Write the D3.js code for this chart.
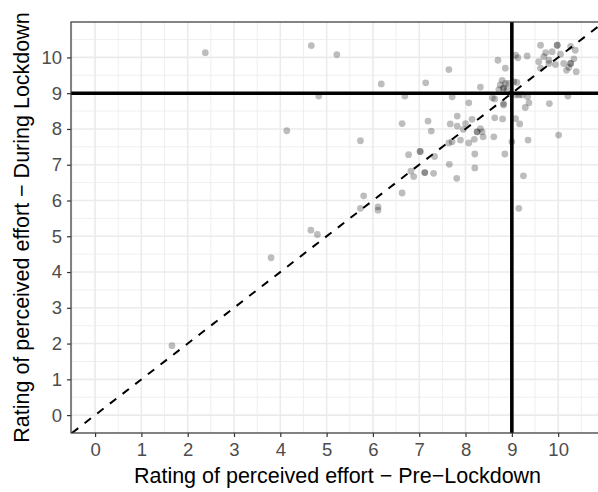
<!DOCTYPE html>
<html><head><meta charset="utf-8">
<script src="https://cdn.jsdelivr.net/npm/d3@7"></script>
<style>body{margin:0;background:#fff}svg{display:block}text{font-family:"Liberation Sans",Arial,sans-serif}</style>
</head><body>
<script>
const preLockdown = [1.66,3.80,2.38,4.14,4.67,5.22,4.66,4.80,4.83,5.73,5.80,5.73,6.11,6.11,6.63,6.18,6.69,6.63,7.14,7.64,7.71,7.19,7.26,6.77,7.02,7.02,7.33,6.82,6.88,7.12,7.12,7.31,7.65,7.81,8.20,8.20,7.82,7.67,7.82,8.00,8.14,7.95,8.25,8.25,8.32,8.19,8.07,7.89,7.71,7.64,8.07,8.32,8.36,8.38,8.61,8.63,8.80,9.08,9.17,9.00,9.35,8.85,9.25,9.15,10.01,9.81,10.21,8.58,8.63,8.82,8.82,9.08,9.15,9.22,9.34,9.37,9.29,8.98,8.70,8.86,9.08,9.13,9.33,8.79,8.86,8.75,8.82,8.82,8.72,8.93,9.04,9.11,8.90,9.62,9.98,9.98,10.27,10.37,9.73,9.87,10.05,9.69,9.58,9.80,9.80,9.94,10.12,10.27,10.27,10.34,10.23,10.18,10.39,9.62];
const duringLockdown = [1.94,4.40,10.13,7.95,10.33,10.08,5.17,5.05,8.92,7.67,6.13,5.78,5.82,5.73,6.21,9.26,8.92,8.15,9.29,9.66,8.90,8.22,7.94,7.28,7.37,7.37,7.23,6.82,6.67,6.78,6.78,6.76,7.01,6.62,6.91,7.30,8.36,8.14,8.08,8.15,8.27,7.99,7.92,7.92,8.01,7.71,7.61,7.69,7.64,7.61,8.73,9.17,7.92,7.78,7.78,8.31,8.28,8.29,8.14,7.64,7.69,7.30,6.69,5.78,7.83,8.71,8.92,8.87,8.84,8.71,8.67,8.95,8.95,8.95,8.90,8.73,8.60,8.98,9.92,9.70,10.06,9.99,10.04,9.36,9.27,9.23,9.15,9.13,9.10,9.27,9.32,9.30,9.09,10.34,10.34,10.34,10.31,10.20,10.13,10.16,10.09,10.02,9.88,9.92,9.83,9.80,9.83,9.83,9.83,9.96,9.72,9.64,9.60,9.70];
const xTicks = [0,1,2,3,4,5,6,7,8,9,10];
const yTicks = [0,1,2,3,4,5,6,7,8,9,10];
const xMinor = [-0.5,0.5,1.5,2.5,3.5,4.5,5.5,6.5,7.5,8.5,9.5,10.5];
const yMinor = [-0.5,0.5,1.5,2.5,3.5,4.5,5.5,6.5,7.5,8.5,9.5,10.5];
const refX = 9, refY = 9;
const xTitle = "Rating of perceived effort \u2212 Pre\u2212Lockdown";
const yTitle = "Rating of perceived effort \u2212 During Lockdown";

const W = 598, H = 492;
const L = 71, T = 22, R = 604, B = 433;
const x = d3.scaleLinear().domain([-0.52, 10.99]).range([L, R]);
const y = d3.scaleLinear().domain([-0.5, 10.99]).range([B, T]);

const svg = d3.select("body").append("svg").attr("width", W).attr("height", H);
const defs = svg.append("defs");
defs.append("clipPath").attr("id","clip").append("rect").attr("x",L).attr("y",T).attr("width",R-L).attr("height",B-T);

const g = svg.append("g").attr("clip-path","url(#clip)");
g.selectAll(".xmin").data(xMinor).join("line").attr("x1",d=>x(d)).attr("x2",d=>x(d)).attr("y1",T).attr("y2",B).attr("stroke","#EBEBEB").attr("stroke-width",0.8);
g.selectAll(".ymin").data(yMinor).join("line").attr("y1",d=>y(d)).attr("y2",d=>y(d)).attr("x1",L).attr("x2",R).attr("stroke","#EBEBEB").attr("stroke-width",0.8);
g.selectAll(".xmaj").data(xTicks).join("line").attr("x1",d=>x(d)).attr("x2",d=>x(d)).attr("y1",T).attr("y2",B).attr("stroke","#EBEBEB").attr("stroke-width",1.6);
g.selectAll(".ymaj").data(yTicks).join("line").attr("y1",d=>y(d)).attr("y2",d=>y(d)).attr("x1",L).attr("x2",R).attr("stroke","#EBEBEB").attr("stroke-width",1.6);

const pts = preLockdown.map((d,i)=>({x:d,y:duringLockdown[i]}));
g.selectAll("circle").data(pts).join("circle").attr("cx",d=>x(d.x)).attr("cy",d=>y(d.y)).attr("r",3.4).attr("fill","#000").attr("fill-opacity",0.26);

g.append("line").attr("x1",x(-0.5)).attr("y1",y(-0.5)).attr("x2",x(11)).attr("y2",y(11)).attr("stroke","#000").attr("stroke-width",2).attr("stroke-dasharray","8,8");
g.append("line").attr("x1",L).attr("x2",R).attr("y1",y(refY)).attr("y2",y(refY)).attr("stroke","#000").attr("stroke-width",3.6);
g.append("line").attr("x1",x(refX)).attr("x2",x(refX)).attr("y1",T).attr("y2",B).attr("stroke","#000").attr("stroke-width",3.6);

svg.append("rect").attr("x",L).attr("y",T).attr("width",R-L).attr("height",B-T).attr("fill","none").attr("stroke","#333").attr("stroke-width",1.2);

const xa = svg.append("g").attr("transform",`translate(0,${B})`).call(d3.axisBottom(x).tickValues(xTicks).tickSize(4).tickPadding(6));
const ya = svg.append("g").attr("transform",`translate(${L},0)`).call(d3.axisLeft(y).tickValues(yTicks).tickSize(4).tickPadding(5));
[xa,ya].forEach(a=>{a.select(".domain").remove();a.selectAll(".tick line").attr("stroke","#333").attr("stroke-width",1.2);a.selectAll("text").attr("fill","#4D4D4D").style("font-size","18.5px").style("font-family","'Liberation Sans',Arial,sans-serif");});

svg.append("text").attr("x",(L+R)/2).attr("y",483).attr("text-anchor","middle").style("font-size","21.5px").attr("fill","#000").text(xTitle);
svg.append("text").attr("transform",`translate(29,${(T+B)/2}) rotate(-90)`).attr("text-anchor","middle").style("font-size","21.5px").attr("fill","#000").text(yTitle);
</script>
</body></html>
